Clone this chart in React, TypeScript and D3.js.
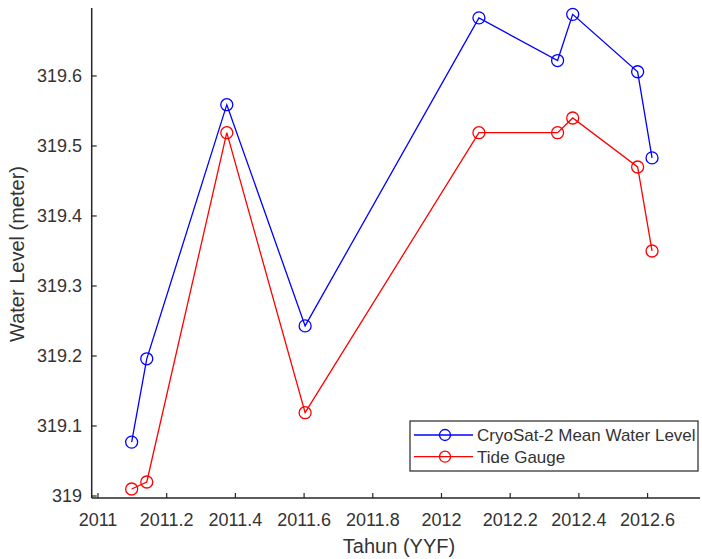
import React from "react";
import * as d3 from "d3";

const years = [2011.098, 2011.142, 2011.375, 2011.603, 2012.109, 2012.338, 2012.382, 2012.571, 2012.613];
const cryosat = [319.077, 319.196, 319.559, 319.243, 319.683, 319.622, 319.688, 319.606, 319.483];
const tideGauge = [319.01, 319.02, 319.519, 319.119, 319.519, 319.519, 319.54, 319.47, 319.35];
const xTicks = [2011, 2011.2, 2011.4, 2011.6, 2011.8, 2012, 2012.2, 2012.4, 2012.6];
const xTickLabels = ["2011", "2011.2", "2011.4", "2011.6", "2011.8", "2012", "2012.2", "2012.4", "2012.6"];
const yTicks = [319, 319.1, 319.2, 319.3, 319.4, 319.5, 319.6];
const yTickLabels = ["319", "319.1", "319.2", "319.3", "319.4", "319.5", "319.6"];
const seriesNames = ["CryoSat-2 Mean Water Level", "Tide Gauge"];

export default function App() {
  const W = 702, H = 559;
  const left = 91.7, right = 700, top = 8, bottom = 498;
  const x = d3.scaleLinear().domain([2010.9817, 2012.7526]).range([left, right]);
  const y = d3.scaleLinear().domain([318.99714, 319.6971]).range([bottom, top]);
  const axisColor = "#262626";
  const textColor = "#333333";
  const font = "'Liberation Sans', Arial, sans-serif";
  const series = [
    { name: seriesNames[0], values: cryosat, color: "#0000ff" },
    { name: seriesNames[1], values: tideGauge, color: "#ff0000" },
  ];
  const line = d3.line<[number, number]>().x(d => x(d[0])).y(d => y(d[1]));
  return (
    <svg width={W} height={H} style={{ position: "absolute", left: 0, top: 0, background: "#fff" }} fontFamily={font}>
      <rect x={0} y={0} width={W} height={H} fill="#fff" />
      {series.map(s => {
        const pts = years.map((yr, i) => [yr, s.values[i]] as [number, number]);
        return (
          <g key={s.name}>
            <path d={line(pts) || ""} fill="none" stroke={s.color} strokeWidth={1.3} />
            {pts.map((p, i) => (
              <circle key={i} cx={x(p[0])} cy={y(p[1])} r={6} fill="none" stroke={s.color} strokeWidth={1.3} />
            ))}
          </g>
        );
      })}
      <line x1={left} x2={left} y1={top} y2={bottom} stroke={axisColor} strokeWidth={1.5} />
      <line x1={left} x2={right} y1={bottom} y2={bottom} stroke={axisColor} strokeWidth={1.5} />
      {xTicks.map((t, i) => (
        <g key={"x" + i}>
          <line x1={x(t)} x2={x(t)} y1={bottom} y2={bottom - 5} stroke={axisColor} strokeWidth={1.2} />
          <text x={x(t)} y={526} textAnchor="middle" fontSize={18} fill={textColor}>{xTickLabels[i]}</text>
        </g>
      ))}
      {yTicks.map((t, i) => (
        <g key={"y" + i}>
          <line x1={left} x2={left + 5} y1={y(t)} y2={y(t)} stroke={axisColor} strokeWidth={1.2} />
          <text x={82} y={y(t) + 6.5} textAnchor="end" fontSize={18} fill={textColor}>{yTickLabels[i]}</text>
        </g>
      ))}
      <text x={399} y={553} textAnchor="middle" fontSize={20} fill={textColor}>Tahun (YYF)</text>
      <text transform={`translate(24,254) rotate(-90)`} textAnchor="middle" fontSize={20} fill={textColor}>Water Level (meter)</text>
      <rect x={410} y={421} width={288} height={50} fill="#fff" stroke={axisColor} strokeWidth={1.2} />
      {series.map((s, i) => {
        const ly = 435 + i * 21.7;
        return (
          <g key={"lg" + i}>
            <line x1={414} x2={473} y1={ly} y2={ly} stroke={s.color} strokeWidth={1.3} />
            <circle cx={445} cy={ly} r={5.5} fill="none" stroke={s.color} strokeWidth={1.3} />
            <text x={477} y={ly + 6} fontSize={17} fill={textColor}>{s.name}</text>
          </g>
        );
      })}
    </svg>
  );
}
